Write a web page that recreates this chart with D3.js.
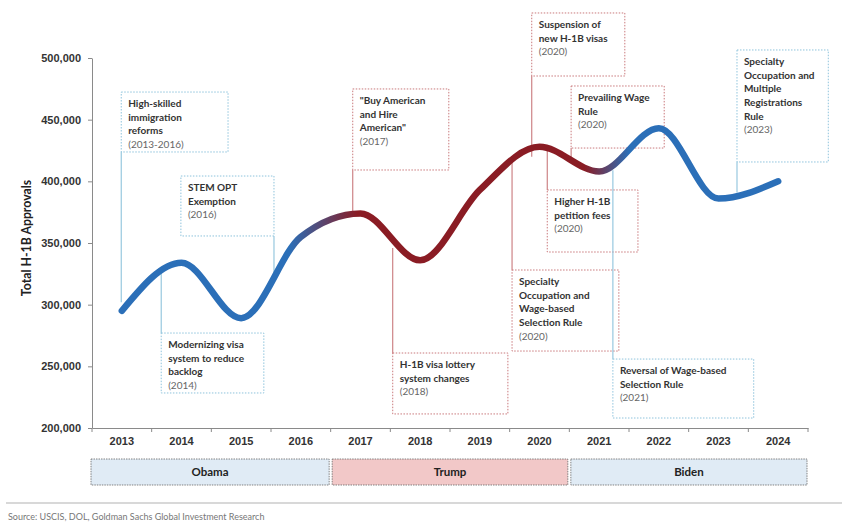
<!DOCTYPE html>
<html><head><meta charset="utf-8">
<script src="https://cdn.jsdelivr.net/npm/d3@7"></script>
<style>
body{margin:0;background:#fff;}
svg{display:block;font-family:Lato,"Open Sans",sans-serif;}
</style></head>
<body><svg id="c" width="848" height="530"></svg>
<script>
// ---- data ----
const years = [2013,2014,2015,2016,2017,2018,2019,2020,2021,2022,2023,2024];
const approvals = [295000,334000,289000,355000,374000,336000,393000,428000,408000,443000,386000,400000];
const yTicks = [200000,250000,300000,350000,400000,450000,500000];
const presidents = ["Obama","Trump","Biden"];
const presStart = [2013,2017,2021];
const presEnd = [2016,2020,2024];
const annTexts = [
  ["High-skilled","immigration","reforms"],
  ["STEM OPT","Exemption"],
  ["Modernizing visa","system to reduce","backlog"],
  ["\"Buy American","and Hire","American\""],
  ["H-1B visa lottery","system changes"],
  ["Suspension of","new H-1B visas"],
  ["Prevailing Wage","Rule"],
  ["Higher H-1B","petition fees"],
  ["Specialty","Occupation and","Wage-based","Selection Rule"],
  ["Reversal of Wage-based","Selection Rule"],
  ["Specialty","Occupation and","Multiple","Registrations","Rule"]
];
const annYears = ["(2013-2016)","(2016)","(2014)","(2017)","(2018)","(2020)","(2020)","(2020)","(2020)","(2021)","(2023)"];
const annParty = ["D","D","D","R","R","R","R","R","R","D","D"];
// box extents in chart units (year, approvals) and leader end value
const annX0 = [2012.99,2013.99,2013.66,2016.87,2017.54,2019.87,2020.53,2020.13,2019.54,2021.23,2023.31];
const annX1 = [2014.78,2015.55,2015.38,2018.48,2019.47,2021.43,2022.09,2021.65,2021.33,2023.59,2024.84];
const annTop = [472400,404300,277000,474900,260800,536500,477300,393000,328100,255900,506500];
const annBot = [423800,355700,228400,409200,211400,485400,427000,342700,262400,208100,415700];
const annLeadSide = ["L","R","L","L","L","L","L","L","L","L","L"];
const annLeadTo = [302000,326000,326000,372000,346000,420000,415000,426000,418000,409000,391000];

// ---- layout ----
const svg = d3.select("#c");
const L=92, R=808, T=58, B=428;
const x = d3.scaleBand().domain(years).range([L,R]);
const xl = d3.scaleLinear().domain([2012.5,2024.5]).range([L,R]);
const y = d3.scaleLinear().domain([200000,500000]).range([B,T]);
const blue="#2b6fb8", red="#8a1c24";

// gradient for line
const defs = svg.append("defs");
const g = defs.append("linearGradient").attr("id","lg").attr("gradientUnits","userSpaceOnUse")
  .attr("x1",L).attr("x2",R).attr("y1",0).attr("y2",0);
const stops=[[2015.8,blue],[2016.95,red],[2020.75,red],[2021.5,blue]];
stops.forEach(s=>g.append("stop").attr("offset",(xl(s[0])-L)/(R-L)).attr("stop-color",s[1]));

// axes
const yAxis = svg.append("g").attr("transform",`translate(${L},0)`)
  .call(d3.axisLeft(y).tickValues(yTicks).tickSize(4).tickSizeOuter(0).tickFormat(d3.format(",")));
yAxis.select(".domain").attr("stroke","#8a8a8a");
yAxis.selectAll(".tick line").attr("stroke","#8a8a8a");
yAxis.selectAll("text").attr("font-size",11).attr("font-weight","bold").attr("fill","#333").attr("x",-11);

const xAxis = svg.append("g").attr("transform",`translate(0,${B})`)
  .call(d3.axisBottom(x).tickSize(0).tickSizeOuter(0));
xAxis.select(".domain").attr("stroke","#8a8a8a");
xAxis.selectAll("text").attr("font-size",11).attr("font-weight","bold").attr("fill","#333").attr("dy","1.3em");
svg.append("g").selectAll("line").data(d3.range(2012.5,2025,1)).join("line")
  .attr("x1",d=>xl(d)).attr("x2",d=>xl(d)).attr("y1",B).attr("y2",B+4).attr("stroke","#8a8a8a");

svg.append("text").attr("transform",`translate(31,${(T+B)/2-5}) rotate(-90)`)
  .attr("text-anchor","middle").attr("font-size",12.3).attr("font-weight","bold").attr("fill","#222")
  .text("Total H-1B Approvals");

// annotations
const ag = svg.append("g");
annTexts.forEach((lines,i)=>{
  const col = annParty[i]==="D" ? "#8ec3dc" : "#c9797c";
  const x0=xl(annX0[i]), x1=xl(annX1[i]), t=y(annTop[i]), b=y(annBot[i]);
  ag.append("rect").attr("x",x0).attr("y",t).attr("width",x1-x0).attr("height",b-t)
    .attr("fill","none").attr("stroke",col).attr("stroke-width",1).attr("stroke-dasharray","1.5,1.5");
  const lx = annLeadSide[i]==="L"? x0 : x1;
  const ly = y(annLeadTo[i]);
  const ly0 = ly>b ? b : t;
  ag.append("line").attr("x1",lx).attr("x2",lx).attr("y1",ly0).attr("y2",ly)
    .attr("stroke",col).attr("stroke-width",1.1);
  const tx = ag.append("text").attr("x",x0+7).attr("y",t+15).attr("font-size",10).attr("fill","#333");
  lines.forEach((s,j)=>tx.append("tspan").attr("x",x0+7).attr("dy",j?13.7:0).attr("font-weight","bold").text(s));
  tx.append("tspan").attr("x",x0+7).attr("dy",13.7).attr("fill","#666").text(annYears[i]);
});

// line
const line = d3.line().x((d,i)=>x(years[i])+x.bandwidth()/2).y(d=>y(d)).curve(d3.curveMonotoneX);
svg.append("path").datum(approvals).attr("d",line).attr("fill","none")
  .attr("stroke","url(#lg)").attr("stroke-width",6.5).attr("stroke-linecap","round");

// president bands
const pg = svg.append("g");
presidents.forEach((p,i)=>{
  const x0 = xl(presStart[i]-0.5)+(i?1.5:-1), x1 = xl(presEnd[i]+0.5)-(i<2?1.5:1);
  pg.append("rect").attr("x",x0).attr("y",459).attr("width",x1-x0).attr("height",26)
    .attr("fill", p==="Trump" ? "#f2c8c8" : "#e0ebf5")
    .attr("stroke","#666").attr("stroke-width",0.8).attr("stroke-dasharray","1.5,1");
  pg.append("text").attr("x",(x0+x1)/2).attr("y",476).attr("text-anchor","middle")
    .attr("font-size",11.5).attr("font-weight","bold").attr("fill","#222").text(p);
});

svg.append("line").attr("x1",6).attr("x2",842).attr("y1",503).attr("y2",503).attr("stroke","#d8d8d8").attr("stroke-width",2);
svg.append("text").attr("x",8).attr("y",520).attr("font-size",9).attr("fill","#777")
  .text("Source: USCIS, DOL, Goldman Sachs Global Investment Research");
</script></body></html>
